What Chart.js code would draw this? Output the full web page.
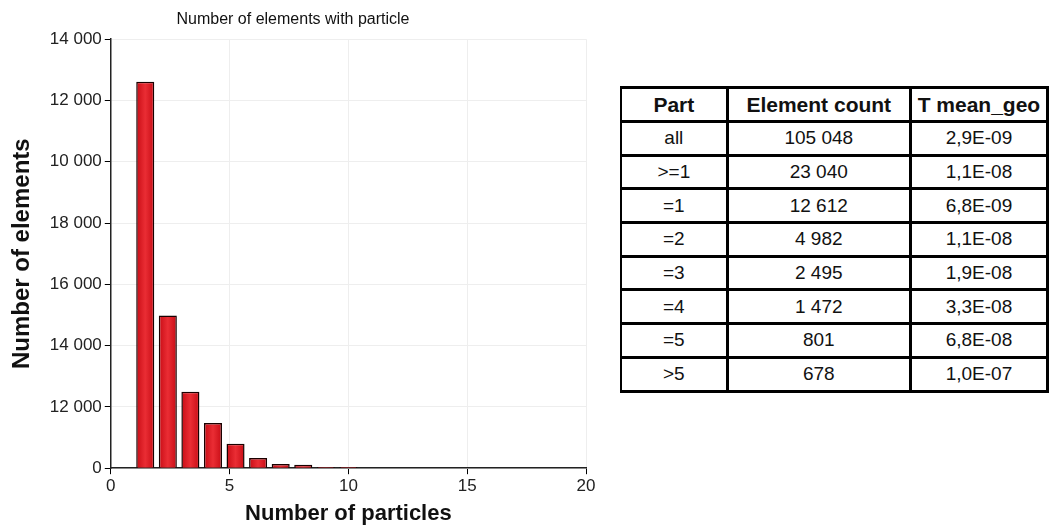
<!DOCTYPE html>
<html>
<head>
<meta charset="utf-8">
<script src="https://cdn.jsdelivr.net/npm/chart.js@4"></script>
<style>
  body { margin: 0; background: #fff; width: 1049px; height: 527px; overflow: hidden; position: relative; font-family: "Liberation Sans", Arial, sans-serif; }
  #wrap { position: absolute; left: 0; top: 0; width: 616px; height: 527px; }
  #tbl { position: absolute; left: 620px; top: 86px; border-collapse: collapse; table-layout: fixed; color: #111; }
  #tbl th, #tbl td { border: 3px solid #000; text-align: center; padding: 0; height: 30.7px; font-size: 19px; }
  #tbl th { font-size: 21px; font-weight: bold; height: 31px; }
  #tbl tr > :first-child { border-left-width: 2px; }
</style>
</head>
<body>
<div id="wrap"><canvas id="grafica" width="616" height="527"></canvas></div>
<table id="tbl">
  <colgroup><col style="width:108px"><col style="width:186px"><col style="width:138px"></colgroup>
  <thead></thead>
  <tbody></tbody>
</table>
<script>
// bars of the histogram
const particles = [1.45, 2.4, 3.35, 4.3, 5.25, 6.2, 7.15, 8.1, 9.05, 10.0, 10.95];
const counts = [12612, 4982, 2495, 1472, 801, 335, 140, 110, 40, 38, 15];

// y tick labels as printed on the picture
const yTickLabels = ['0', '12 000', '14 000', '16 000', '18 000', '10 000', '12 000', '14 000'];

// table
const tableHeader = ['Part', 'Element count', 'T mean_geo'];
const parts = ['all', '>=1', '=1', '=2', '=3', '=4', '=5', '>5'];
const elementCounts = ['105 048', '23 040', '12 612', '4 982', '2 495', '1 472', '801', '678'];
const tMeanGeo = ['2,9E-09', '1,1E-08', '6,8E-09', '1,1E-08', '1,9E-08', '3,3E-08', '6,8E-08', '1,0E-07'];

// bar fill: darker edges, brighter middle
function rellenoBarra(ctx) {
    const el = ctx.element;
    if (!el || !isFinite(el.x) || !isFinite(el.width)) return '#e2161f';
    const g = ctx.chart.ctx.createLinearGradient(el.x - el.width / 2, 0, el.x + el.width / 2, 0);
    g.addColorStop(0, '#c80c15');
    g.addColorStop(0.5, '#ea2d34');
    g.addColorStop(1, '#c80c15');
    return g;
}

document.addEventListener('DOMContentLoaded', () => {
    const tabla = document.querySelector('#tbl');
    tabla.querySelector('thead').innerHTML =
        '<tr>' + tableHeader.map(h => `<th>${h}</th>`).join('') + '</tr>';
    tabla.querySelector('tbody').innerHTML = parts.map((p, i) =>
        `<tr><td>${p.replace('>', '&gt;')}</td><td>${elementCounts[i]}</td><td>${tMeanGeo[i]}</td></tr>`
    ).join('');

    const grafica = document.querySelector('#grafica');
    const chart = new Chart(grafica, {
        type: 'bar',
        data: {
            datasets: [{
                data: particles.map((x, i) => ({ x: x, y: counts[i] })),
                backgroundColor: rellenoBarra,
                borderColor: '#1a0000',
                borderWidth: 1.5,
                barPercentage: 0.8,
                categoryPercentage: 1
            }]
        },
        options: {
            responsive: false,
            animation: false,
            devicePixelRatio: 1,
            layout: { padding: { left: 0, right: 30, top: 0, bottom: 0 } },
            plugins: {
                legend: { display: false },
                tooltip: { enabled: false },
                title: {
                    display: true,
                    text: 'Number of elements with particle',
                    color: '#111',
                    font: { family: 'Liberation Sans', size: 16, weight: 'normal' },
                    padding: { top: 10, bottom: 10 }
                }
            },
            scales: {
                x: {
                    type: 'linear',
                    min: 0,
                    max: 20,
                    offset: false,
                    ticks: { stepSize: 5, color: '#222', padding: 2, font: { family: 'Liberation Sans', size: 17 } },
                    grid: { offset: false, color: '#eeeeee', tickColor: '#000', tickLength: 6 },
                    border: { color: '#222', width: 1.5 },
                    title: {
                        display: true,
                        text: 'Number of particles',
                        color: '#111',
                        font: { family: 'Liberation Sans', size: 22, weight: 'bold' },
                        padding: { top: 2, bottom: 0 }
                    }
                },
                y: {
                    min: 0,
                    max: 14000,
                    ticks: {
                        stepSize: 2000,
                        color: '#222',
                        padding: 3,
                        font: { family: 'Liberation Sans', size: 17 },
                        callback: v => yTickLabels[Math.round(v / 2000)]
                    },
                    grid: { color: '#eeeeee', tickColor: '#000', tickLength: 6 },
                    border: { color: '#222', width: 1.5 },
                    title: {
                        display: true,
                        text: 'Number of elements',
                        color: '#111',
                        font: { family: 'Liberation Sans', size: 24, weight: 'bold' },
                        padding: { top: 8, bottom: 10 }
                    }
                }
            }
        }
    });
    // second pass so the gradient knows where each bar is
    chart.update();
});
</script>
</body>
</html>
